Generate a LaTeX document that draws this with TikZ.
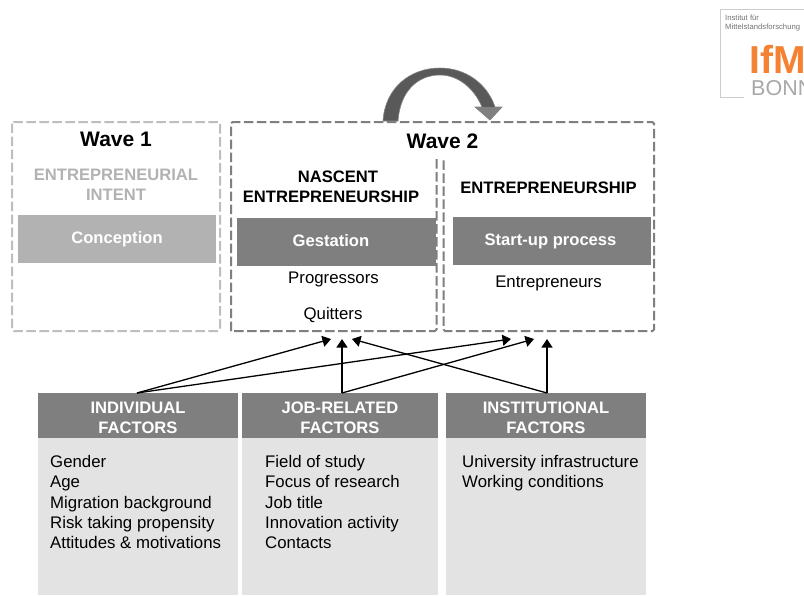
\documentclass[tikz,border=0pt]{standalone}
\usepackage{fontspec}
\setmainfont{Liberation Sans}
\usetikzlibrary{arrows.meta}
\definecolor{dk}{HTML}{7F7F7F}
\definecolor{lt}{HTML}{B2B2B2}
\definecolor{pale}{HTML}{E3E3E3}
\definecolor{dashc}{HTML}{7F7F7F}
\definecolor{dashl}{HTML}{BEBEBE}
\definecolor{org}{HTML}{F58233}
\definecolor{logog}{HTML}{A8A8A8}
\tikzset{x=1pt,y=-1pt,
 wavebox/.style={draw=dashc,line width=2pt,dash pattern=on 9.5pt off 3.5pt,rounded corners=1.5pt},
 band/.style={fill=dk,text=white,font=\fontsize{16.6}{21}\selectfont\bfseries,align=center,inner sep=0pt},
 bandtext/.style={text=white,font=\fontsize{16.6}{20}\selectfont\bfseries,align=center,inner sep=0pt},
 head/.style={font=\fontsize{16.6}{20.5}\selectfont\bfseries,align=center,inner sep=0pt},
 lbl/.style={font=\fontsize{16.8}{20}\selectfont,align=center,inner sep=0pt},
 lst/.style={font=\fontsize{16.8}{20.1}\selectfont,align=left,anchor=north west,inner sep=0pt},
 wavet/.style={font=\fontsize{21}{24}\selectfont\bfseries,inner sep=0pt},
 panel/.style={fill=pale,draw=none,inner sep=0pt},
 arr/.style={draw=black,line width=1.3pt,-{Triangle[length=8.5pt,width=11pt]}}}
\begin{document}
\begin{tikzpicture}
\useasboundingbox (0,0) rectangle (804,595);
\fill[white] (0,0) rectangle (804,595);
% logo
\begin{scope}
\clip (0,0) rectangle (804,595);
\draw[draw=black!20,line width=.8pt] (804,9) -- (720,9) -- (720,97) -- (744,97);
\node[anchor=west,inner sep=0pt,text=black!55,font=\fontsize{7.7}{9.5}\selectfont,align=left] (logotxt) at (725,23) {Institut für\\Mittelstandsforschung};
\node[anchor=west,inner sep=0pt,text=org,font=\fontsize{39}{39}\selectfont\bfseries] (logoifm) at (749,59) {IfM};
\node[anchor=west,inner sep=0pt,text=logog,font=\fontsize{21.5}{22}\selectfont] (logobonn) at (751,88) {BONN};
\end{scope}
% curved arrow
\path[fill=black!65,draw=black!48,line width=.6pt]
 (383,121) .. controls (385,88) and (410,68) .. (440,68)
 .. controls (465,68) and (487,83) .. (495,107)
 -- (502,107) -- (490,120) -- (475,107) -- (482,107)
 .. controls (474,88) and (458,75) .. (440,75)
 .. controls (417,75) and (400,92) .. (398,121) -- cycle;
\path[fill=black!50] (495,107) -- (502,107) -- (490,120) -- (475,107) -- (482,107) -- cycle;
% wave boxes
\draw[wavebox,draw=dashl] (12,122) rectangle (220,331);
\draw[wavebox] (231,331) -- (231,122) -- (654,122) -- (654,331) -- (443.5,331) -- (443.5,159);
\draw[wavebox] (436.5,159) -- (436.5,331) -- (231,331);
\node[wavet] (w1) at (116,139) {Wave 1};
\node[wavet] (w2) at (442.5,141) {Wave 2};
\node[head,text=lt] (intent) at (116,185) {ENTREPRENEURIAL\\INTENT};
\node[head] (nascent) at (331,187) {\mbox{\hspace{14pt}NASCENT}\\ENTREPRENEURSHIP};
\node[head] (entr) at (548.5,188) {ENTREPRENEURSHIP};
\node[band,fill=lt,minimum width=198pt,minimum height=48pt] (conc) at (117,239) {Conception};
\node[band,minimum width=199pt,minimum height=48pt] (gest) at (336.5,242) {\raisebox{3.5pt}{\mbox{Gestation\hspace{11pt}}}};
\node[band,minimum width=198pt,minimum height=48pt] (start) at (552,241) {\mbox{Start-up process\hspace{3pt}}};
\node[lbl] (prog) at (333.5,279) {Progressors};
\node[lbl] (quit) at (333,315) {Quitters};
\node[lbl] (ents) at (548.5,283) {Entrepreneurs};
% factors
\node[panel,minimum width=200pt,minimum height=157pt] (p1) at (138,516.5) {};
\node[panel,minimum width=196pt,minimum height=157pt] (p2) at (340,516.5) {};
\node[panel,minimum width=200pt,minimum height=157pt] (p3) at (546,516.5) {};
\node[band,minimum width=200pt,minimum height=45pt] (ind) at (138,415.5) {};
\node[band,minimum width=196pt,minimum height=45pt] (job) at (340,415.5) {};
\node[band,minimum width=200pt,minimum height=45pt] (inst) at (546,415.5) {};
\node[bandtext] (indt) at (138,417.5) {INDIVIDUAL\\FACTORS};
\node[bandtext] (jobt) at (340,417.5) {JOB-RELATED\\FACTORS};
\node[bandtext] (instt) at (546,417.5) {INSTITUTIONAL\\FACTORS};
\node[lst] (l1) at (50,455.5) {Gender\\Age\\Migration background\\Risk taking propensity\\Attitudes \& motivations};
\node[lst] (l2) at (265,455.5) {Field of study\\Focus of research\\Job title\\Innovation activity\\Contacts};
\node[lst] (l3) at (462,455.5) {University infrastructure\\Working conditions};
% connectors
\coordinate (s1) at (137,393);
\coordinate (s2) at (342,393);
\coordinate (s3) at (547,393);
\coordinate (t1) at (331,339);
\coordinate (t2) at (342,339);
\coordinate (t3) at (352,339);
\coordinate (t4) at (511,339);
\coordinate (t5) at (534,339);
\coordinate (t6) at (547,339);
\draw[arr] (s1) -- (t1);
\draw[arr] (s1) -- (t4);
\draw[arr] (s2) -- (t2);
\draw[arr] (s2) -- (t5);
\draw[arr] (s3) -- (t3);
\draw[arr] (s3) -- (t6);
\end{tikzpicture}
\end{document}
